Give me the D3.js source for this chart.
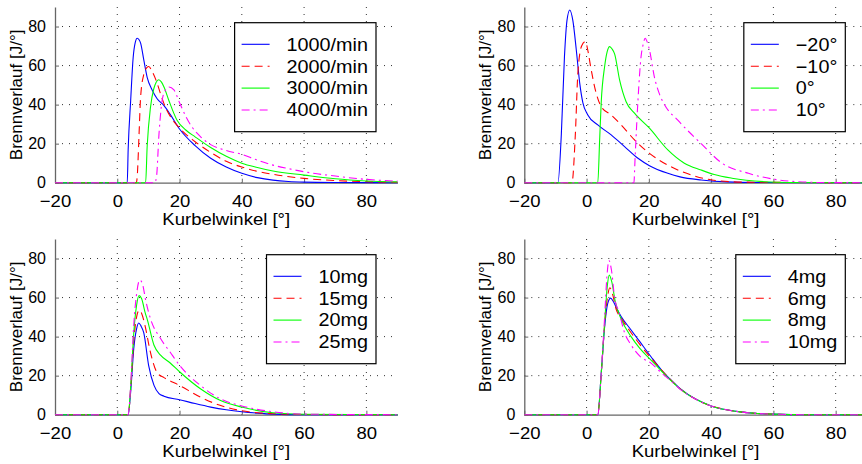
<!DOCTYPE html>
<html>
<head>
<meta charset="utf-8">
<script src="https://cdn.jsdelivr.net/npm/d3@7"></script>
<style>
  body { margin: 0; background: #fff; }
  text { font-family: "Liberation Sans", Arial, sans-serif; fill: #000; }
</style>
</head>
<body>
<script>
// tick values (shared by all four panels)
var xTicks = [-20, 0, 20, 40, 60, 80];
var yTicks = [0, 20, 40, 60, 80];

// panel 1: engine speed
var speedLabels = ["1000/min", "2000/min", "3000/min", "4000/min"];
var speed1000 = [[-20,0],[3.2,0],[3.5,17],[4.3,42],[5.1,64],[5.8,72],[6.4,74],[7.0,73.2],[7.5,71.5],[8.5,63],[9.6,54],[11.2,47.5],[12.8,43],[15,39.5],[17,35],[20,27.5],[25,19],[30,12.5],[35,8],[40,4.8],[45,2.6],[50,1.3],[55,0.6],[60,0.3],[70,0.1],[90,0]];
var speed2000 = [[-20,0],[6.1,0],[6.4,3],[7.0,25],[7.5,44],[8.6,56],[9.5,59],[10.1,59.5],[11.2,57],[12.8,51],[14,45],[15,40.5],[17,34],[20,28],[25,21],[30,15.5],[35,11],[40,8],[45,5.8],[50,4.3],[60,2.2],[70,1.1],[80,0.5],[90,0.2]];
var speed3000 = [[-20,0],[9.1,0],[9.6,18.5],[10.7,39],[11.7,48],[12.5,51.5],[13.3,52.7],[14.2,51.5],[15,49],[16.6,42],[19.2,32],[22,27],[25,23.5],[30,18],[35,13.5],[40,10],[45,7.8],[50,6],[60,3.9],[70,2],[80,0.9],[90,0.4]];
var speed4000 = [[-20,0],[12,0],[12.6,3],[13.4,25],[14.4,42],[15.5,47.5],[16.6,49],[18.2,47.5],[20,41],[22,34],[24,28.5],[26.7,23.6],[30,19.5],[35,16.5],[40,14.5],[45,11.5],[50,9],[55,7.2],[60,5.6],[70,3.4],[80,1.7],[90,0.8]];

// panel 2: injection timing
var timingLabels = ["\u221220\u00b0", "\u221210\u00b0", "0\u00b0", "10\u00b0"];
var timingM20 = [[-20,0],[-9.2,0],[-8.1,25],[-7.1,64.6],[-6.3,83],[-5.4,88.5],[-4.4,83],[-3.3,68],[-2.2,51],[-1.2,41],[0.4,34.7],[3.6,29.6],[7.9,24.5],[12.2,18.5],[16.5,12.5],[20.2,8.7],[26.1,4.8],[30,3],[36.8,1.4],[45,0.4],[55,0.1],[90,0]];
var timingM10 = [[-20,0],[-4.7,0],[-3.6,25],[-2.8,56],[-1.6,70],[-0.4,72.3],[0.5,67],[1.3,59.5],[3.1,45.8],[4.7,39],[7.9,34.7],[11.1,29.6],[15.4,21.9],[20.2,15],[26.1,9],[33.6,4],[40.2,1.4],[50,0.3],[90,0]];
var timing0 = [[-20,0],[3.6,0],[4.2,22],[4.7,41],[5.8,59.5],[6.6,67],[7.4,69.7],[8.2,68.5],[9,66],[10.6,52.7],[12.7,41.5],[15.4,35.6],[20.2,27.9],[26.1,16.8],[31.4,10],[36.8,6.5],[41,4.2],[46.7,2.3],[57.3,0.5],[65,0.1],[90,0]];
var timing10 = [[-20,0],[15.2,0],[15.6,13.3],[16.5,42],[17.5,64.6],[18.2,71],[18.8,74],[19.5,72],[20.2,68],[21.8,54],[23.5,45],[25,40],[29.3,32],[36.8,20],[43.5,10],[52,4.8],[61.7,1.4],[68,0.5],[75,0.1],[90,0]];

// panel 3: injected mass
var massLabels = ["10mg", "15mg", "20mg", "25mg"];
var mass10 = [[-20,0],[3.5,0],[4.3,11.6],[5.3,34],[6.2,44],[6.9,47],[7.6,45.5],[8.5,42],[10.1,25],[11.8,15],[13.4,10.8],[15,9.5],[20,7.7],[25,5.7],[30,3.9],[35,2.5],[40,1.5],[45,0.8],[50,0.3],[60,0],[90,0]];
var mass15 = [[-20,0],[3.5,0],[4.3,13],[5.3,38],[6.2,50],[7,53.5],[7.8,52],[9,45],[10.5,33],[12.8,21.5],[15,19],[20,15],[26.7,9],[33,4.8],[40,2],[45,1],[50,0.5],[60,0.1],[90,0]];
var mass20 = [[-20,0],[3.5,0],[4.3,14],[5.3,42],[6.2,56],[7,61],[7.8,59.5],[9,52],[9.6,49],[11.8,35.6],[13.9,30.5],[17,26.5],[20,22],[26.7,13.3],[33,7.4],[40,3.9],[50,1],[60,0.2],[90,0]];
var mass25 = [[-20,0],[3.5,0],[4.3,15],[5.3,46],[6.3,63],[7.2,69],[8,67.5],[9.2,58],[10.7,49],[13.9,39],[17,32],[20,25.3],[26.7,15],[33,8.2],[40,4.5],[50,1.5],[60,0.3],[90,0]];

// panel 4: pilot mass
var pilotLabels = ["4mg", "6mg", "8mg", "10mg"];
var pilot4 = [[-20,0],[3.6,0],[4.7,21],[5.8,45],[6.8,57],[7.7,59.7],[8.6,58],[9.8,54],[11.1,50.3],[14.3,43.4],[17.1,37.4],[20.7,29.7],[24,23],[27.1,17.8],[30.1,13.3],[35,8],[40,4.5],[45,2.5],[50,1.3],[55,0.6],[60,0.3],[70,0],[90,0]];
var pilot6 = [[-20,0],[3.6,0],[4.7,21],[5.8,46],[6.7,60],[7.5,65],[8.3,62],[9.5,54],[11.1,49.5],[14.3,42],[17.1,36],[20.7,29],[24,23],[27.1,17.7],[30.1,13.2],[35,8],[40,4.5],[45,2.5],[50,1.3],[55,0.6],[60,0.3],[70,0],[90,0]];
var pilot8 = [[-20,0],[3.6,0],[4.7,21],[5.8,47],[6.6,65],[7.3,71.5],[8.1,68],[9.2,58],[11.1,49],[14.3,40],[17.1,34],[20.7,28],[24,22.5],[27.1,17.5],[30.1,13.1],[35,8],[40,4.5],[45,2.5],[50,1.3],[55,0.6],[60,0.3],[70,0],[90,0]];
var pilot10 = [[-20,0],[3.6,0],[4.7,21],[5.8,50],[6.5,70],[7.2,79],[8,74],[9,60],[10.5,52],[12.2,42],[14.3,35.7],[17.1,30],[20.7,26.4],[24,21.5],[27.1,17.3],[30.1,13],[35,8],[40,4.5],[45,2.5],[50,1.3],[55,0.6],[60,0.3],[70,0],[90,0]];

var colors = ["#0000ff", "#ff0000", "#00ff00", "#ff00ff"];
var dashes = [null, "8,5", null, "8,4,2,4"];

var panels = [
  {left: 55,    top: 7,   labels: speedLabels,  series: [speed1000, speed2000, speed3000, speed4000]},
  {left: 524.3, top: 7,   labels: timingLabels, series: [timingM20, timingM10, timing0, timing10]},
  {left: 55,    top: 239, labels: massLabels,   series: [mass10, mass15, mass20, mass25]},
  {left: 524.3, top: 239, labels: pilotLabels,  series: [pilot4, pilot6, pilot8, pilot10]}
];

var pw = 342.5, ph = 175.7;
var sx = 1.09; // the reference text is a bit wider than Liberation Sans

var svg = d3.select("body").append("svg")
  .attr("width", 862)
  .attr("height", 464);

panels.forEach(function(p) {
  var g = svg.append("g").attr("transform", "translate(" + p.left + "," + p.top + ")");

  var x = d3.scaleLinear().domain([-20, 90]).range([0, pw]);
  var y = d3.scaleLinear().domain([0, 90]).range([ph, 0]);

  // dotted grid
  g.selectAll(".gx").data(xTicks.slice(1)).enter().append("line")
    .attr("x1", d => x(d)).attr("x2", d => x(d))
    .attr("y1", 0).attr("y2", ph)
    .attr("stroke", "#333").attr("stroke-dasharray", "1,6");
  g.selectAll(".gy").data(yTicks.slice(1)).enter().append("line")
    .attr("x1", 0).attr("x2", pw)
    .attr("y1", d => y(d)).attr("y2", d => y(d))
    .attr("stroke", "#333").attr("stroke-dasharray", "1,6");

  // axes (inward ticks, no box on top/right)
  var ax = g.append("g").attr("transform", "translate(0," + ph + ")")
    .call(d3.axisBottom(x).tickValues(xTicks).tickSizeInner(-4).tickSizeOuter(0)
      .tickFormat(d => d < 0 ? "\u2212" + Math.abs(d) : d));
  var ay = g.append("g")
    .call(d3.axisLeft(y).tickValues(yTicks).tickSizeInner(-4).tickSizeOuter(0));
  [ax, ay].forEach(function(a) {
    a.select(".domain").attr("stroke", "#666").attr("stroke-width", 1.3);
    a.selectAll(".tick line").attr("stroke", "#666");
    a.selectAll("text").attr("font-family", "Liberation Sans, Arial, sans-serif").attr("fill", "#000");
  });
  ax.selectAll("text").attr("font-size", 17).attr("y", 12).attr("dy", "0.71em")
    .attr("transform", "scale(" + sx + ",1)");
  ay.selectAll("text").attr("font-size", 16).attr("x", -9).attr("dy", "0.32em");

  // axis titles
  g.append("text")
    .attr("transform", "translate(" + (pw / 2) + "," + (ph + 42.5) + ") scale(" + sx + ",1)")
    .attr("text-anchor", "middle")
    .attr("font-size", 17)
    .text("Kurbelwinkel [\u00b0]");
  g.append("text")
    .attr("transform", "translate(-33," + (ph / 2) + ") rotate(-90)")
    .attr("text-anchor", "middle")
    .attr("font-size", 17)
    .text("Brennverlauf [J/\u00b0]");

  // curves
  var line = d3.line()
    .x(d => x(d[0])).y(d => y(d[1]))
    .curve(d3.curveMonotoneX);
  p.series.forEach(function(s, i) {
    g.append("path")
      .attr("d", line(s))
      .attr("fill", "none")
      .attr("stroke", colors[i])
      .attr("stroke-width", 1.1)
      .attr("stroke-dasharray", dashes[i]);
  });

  // legend, right aligned inside the plot
  var lg = g.append("g");
  var box = lg.append("rect").attr("fill", "#fff").attr("stroke", "#000").attr("stroke-width", 1.2);
  var rows = lg.selectAll(".row").data(p.labels).enter().append("g")
    .attr("transform", (d, i) => "translate(0," + (21.6 + i * 21.9) + ")");
  rows.append("line")
    .attr("x1", 7).attr("x2", 35).attr("y1", 0).attr("y2", 0)
    .attr("stroke", (d, i) => colors[i])
    .attr("stroke-width", 1.1)
    .attr("stroke-dasharray", (d, i) => dashes[i]);
  rows.append("text")
    .attr("transform", "translate(52,0) scale(1.1,1)")
    .attr("dy", "0.35em")
    .attr("font-size", 18)
    .text(d => d);
  var tw = d3.max(rows.selectAll("text").nodes(), n => n.getComputedTextLength()) * 1.1;
  var lw = 52 + tw + 8, lh = 109;
  box.attr("width", lw).attr("height", lh);
  lg.attr("transform", "translate(" + (pw - 21.5 - lw) + ",15.7)");
});
</script>
</body>
</html>
